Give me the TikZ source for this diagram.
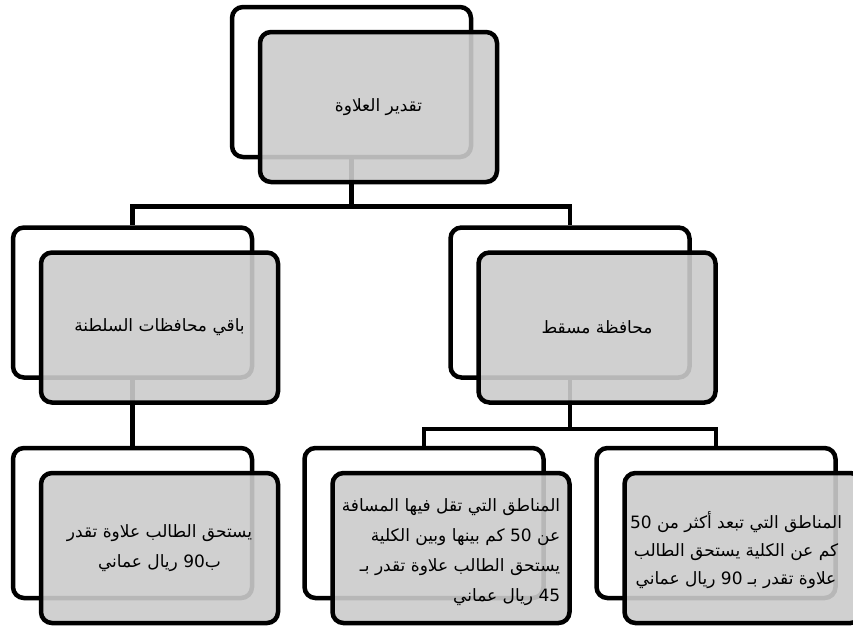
\documentclass[tikz,border=0pt]{standalone}
\usepackage{fontspec}
\newfontfamily\arabicfont[Script=Arabic]{DejaVu Sans}
\TeXXeTstate=1
\usetikzlibrary{calc}
\definecolor{cardgray}{RGB}{203,203,203}
\newcommand{\artext}[1]{\beginR #1\endR}

\begin{document}
\begin{tikzpicture}[x=1pt,y=-1pt,
  frame/.style={draw=black,line width=4.5pt,rounded corners=11pt,fill=white,
    minimum width=239pt,minimum height=150pt,inner sep=0pt},
  card/.style={draw=black,line width=4.5pt,rounded corners=11pt,fill=cardgray,
    fill opacity=0.9,text opacity=1,minimum width=237pt,minimum height=150pt,
    inner sep=2pt,align=center,font=\arabicfont\fontsize{17}{30}\selectfont},
  cardtext/.style={inner sep=0pt,font=\arabicfont\fontsize{17}{30}\selectfont},
  link/.style={line width=4.5pt}]
  \useasboundingbox (0,0) rectangle (853,627);

  % Draw the white frames behind the cards
  \node[frame] (rootF) at (351.5,82) {};
  \node[frame] (leftF) at (132.5,302.5) {};
  \node[frame] (rightF) at (570,302.5) {};
  \node[frame] (lowF) at (132.5,523) {};
  \node[frame] (nearF) at (424,523) {};
  \node[frame] (farF) at (716,523) {};

  % Draw the connectors
  \draw[link] (rootF.south) -- ++(0,47) -| (leftF.north);
  \draw[link] (rootF.south) -- ++(0,47) -| (rightF.north);
  \draw[link] (leftF.south) -- (lowF.north);
  \draw[link] (rightF.south) -- ++(0,49) -| (nearF.north);
  \draw[link] (rightF.south) -- ++(0,49) -| (farF.north);

  % Draw the gray cards with their texts
  \node[card] (root) at ($(rootF)+(27,25)$) {\artext{تقدير العلاوة}};
  \node[card] (left) at ($(leftF)+(27,25)$) {\artext{باقي محافظات السلطنة}};
  \node[card] (right) at ($(rightF)+(27,25)$) {\artext{محافظة مسقط}};
  \node[card] (low) at ($(lowF)+(27,25)$)
    {\artext{يستحق الطالب علاوة تقدر}\\
     \artext{ب\beginL90\endL{} ريال عماني}};
  \node[card] (near) at ($(nearF)+(27,25)$) {};
  \node[card] (far) at ($(farF)+(27,25)$) {};

  % Texts of the two long cards, a little off centre
  \node[cardtext,align=right] (nearT) at ($(near)+(0,4)$)
    {\artext{المناطق التي تقل فيها المسافة}\\
     \artext{عن \beginL50\endL{} كم بينها وبين الكلية}\\
     \artext{يستحق الطالب علاوة تقدر بـ}\\
     \artext{\beginL45\endL{} ريال عماني}};
  \node[cardtext,align=center,font=\arabicfont\fontsize{17}{28}\selectfont]
    (farT) at ($(far)+(-7,2)$)
    {\artext{المناطق التي تبعد أكثر من \beginL50\endL}\\
     \artext{كم عن الكلية يستحق الطالب}\\
     \artext{علاوة تقدر بـ \beginL90\endL{} ريال عماني}};
\end{tikzpicture}
\end{document}
